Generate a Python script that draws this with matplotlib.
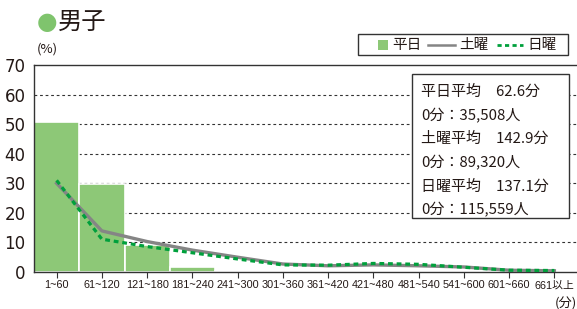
import matplotlib
matplotlib.use("Agg")
import matplotlib.pyplot as plt
from matplotlib.patches import Rectangle
from matplotlib.lines import Line2D
import numpy as np

plt.rcParams['font.family'] = ['Noto Sans CJK JP', 'DejaVu Sans']

categories = ["1~60", "61~120", "121~180", "181~240", "241~300", "301~360",
              "361~420", "421~480", "481~540", "541~600", "601~660", "661以上"]
weekday = [50.7, 29.8, 9.1, 1.6, 0.3, 0.1, 0.1, 0.1, 0.1, 0.0, 0.0, 0.0]
saturday = [30.0, 13.9, 10.3, 7.4, 5.0, 2.7, 2.1, 2.4, 2.1, 1.7, 0.6, 0.4]
sunday = [31.0, 11.1, 8.6, 6.5, 4.4, 2.4, 2.3, 2.9, 2.6, 1.6, 0.6, 0.5]
yticks = [0, 10, 20, 30, 40, 50, 60, 70]
info_lines = ["平日平均　62.6分", "0分：35,508人", "土曜平均　142.9分",
              "0分：89,320人", "日曜平均　137.1分", "0分：115,559人"]

tick_family = ['Liberation Sans', 'Noto Sans CJK JP', 'DejaVu Sans']

W, H = 577, 309
fig = plt.figure(figsize=(W / 100, H / 100), dpi=100)
ax = fig.add_axes([34 / W, (H - 272) / H, (W - 34) / W, (272 - 65) / H])

bar_color = "#8dc877"
gray = "#858585"
green = "#00a03c"
dark = "#333333"
txt = "#231815"

x = np.arange(len(categories))
ax.bar(x, weekday, width=1.0, color=bar_color, edgecolor="white", linewidth=1.2, zorder=2)
ax.plot(x, saturday, color=gray, linewidth=2.4, zorder=3, solid_joinstyle="round")
ax.plot(x, sunday, color=green, linewidth=2.3, linestyle=(0, (1.5, 1.2)), zorder=4)

ax.set_xlim(-0.5, len(categories) - 0.5)
ax.set_ylim(0, 70)
ax.set_yticks(yticks)
ax.set_yticklabels([str(v) for v in yticks], fontsize=12, color=txt, family=['DejaVu Sans'])
ax.set_xticks(x)
ax.set_xticklabels(categories, fontsize=7.8, color=txt, family=tick_family)
ax.tick_params(axis='x', direction='out', length=4, width=0.8, color=dark, pad=2)
ax.tick_params(axis='y', length=0, pad=6)
for y in yticks[1:-1]:
    ax.axhline(y, color=dark, linewidth=0.8, linestyle=(0, (2.5, 2.5)), zorder=1)
ax.spines['right'].set_visible(False)
for s in ['left', 'bottom', 'top']:
    ax.spines[s].set_color(dark)
    ax.spines[s].set_linewidth(1.0)

# title
fig.text(47 / W, (H - 22) / H, "●", fontsize=17, color="#7fc46d", ha='center', va='center',
         family=['DejaVu Sans'])
fig.text(58 / W, (H - 22) / H, "男子", fontsize=17.5, color=txt, ha='left', va='center')
fig.text(37 / W, (H - 49) / H, "(%)", fontsize=9.5, color=txt, ha='left', va='center')
fig.text(577 / W, (H - 297) / H, "(分)", fontsize=9.5, color=txt, ha='right', va='top')

# legend box
fig.patches.append(Rectangle((358 / W, (H - 55) / H), 210 / W, 21 / H, transform=fig.transFigure,
                             facecolor="white", edgecolor=dark, linewidth=1.0))
ly = (H - 45) / H
fig.patches.append(Rectangle((378 / W, (H - 50) / H), 10 / W, 10 / H, transform=fig.transFigure,
                             facecolor=bar_color, edgecolor="none"))
fig.text(392 / W, ly, "平日", fontsize=10.5, color=txt, ha='left', va='center')
fig.lines.append(Line2D([428 / W, 455 / W], [ly, ly], transform=fig.transFigure,
                        color=gray, linewidth=1.8))
fig.text(459 / W, ly, "土曜", fontsize=10.5, color=txt, ha='left', va='center')
fig.lines.append(Line2D([497 / W, 523 / W], [ly, ly], transform=fig.transFigure,
                        color=green, linewidth=2.0, linestyle=(0, (1.5, 1.2))))
fig.text(527 / W, ly, "日曜", fontsize=10.5, color=txt, ha='left', va='center')

# info box
fig.patches.append(Rectangle((412 / W, (H - 218) / H), 157 / W, 144 / H, transform=fig.transFigure,
                             facecolor="white", edgecolor=dark, linewidth=1.0, zorder=5))
for i, t in enumerate(info_lines):
    fig.text(421 / W, (H - (92 + i * 23.6)) / H, t, fontsize=10.8, color=txt,
             ha='left', va='center', zorder=6)

fig.savefig("out.png", dpi=100)
